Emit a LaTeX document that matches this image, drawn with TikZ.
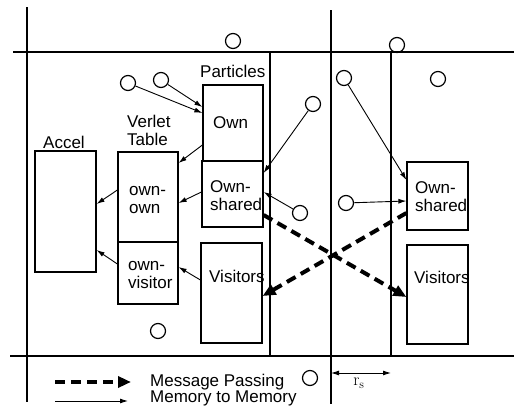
\documentclass[tikz,border=0pt]{standalone}
\usepackage[no-math]{fontspec}
\setmainfont{Liberation Sans}
\usepackage{tikz}
\usetikzlibrary{arrows.meta, positioning}
\tikzstyle{gridline} = [line width=1.4pt]
\tikzstyle{cellbox} = [rectangle, draw, line width=1.2pt, inner sep=0pt]
\tikzstyle{particle} = [circle, draw, line width=1.2pt, minimum size=15pt, inner sep=0pt]
\tikzstyle{tagtext} = [font=\fontsize{17}{18}\selectfont, inner sep=0pt, align=left]
\tikzstyle{memarrow} = [line width=0.9pt, -{Latex[length=8pt, width=5pt]}]
\tikzstyle{msgarrow} = [line width=4pt, dash pattern=on 10pt off 6pt, -{Triangle[length=13pt, width=11pt]}]

\begin{document}
\begin{tikzpicture}[x=1pt, y=-1pt]
  \useasboundingbox (0,0) rectangle (515,415);

  % cell borders
  \draw[gridline, line width=2.2pt] (27,7) -- (27,402);
  \draw[gridline] (13,52) -- (514,52);
  \draw[gridline] (10,356) -- (514,356);
  \draw[gridline] (331,10) -- (331,404);
  \draw[gridline] (270,52) -- (270,356);
  \draw[gridline] (391,52) -- (391,356);

  % memory blocks, left processor
  \node (accel) [cellbox, minimum width=61pt, minimum height=121pt] at (65.5,211.5) {};
  \node (vown)  [cellbox, minimum width=60pt, minimum height=90pt]  at (148,197) {};
  \node (vvis)  [cellbox, minimum width=60pt, minimum height=62pt]  at (148,273) {};
  \node (own)   [cellbox, minimum width=60pt, minimum height=76pt]  at (233,123) {};
  \node (ownsh) [cellbox, minimum width=61pt, minimum height=66pt]  at (232.5,194) {};
  \node (vis)   [cellbox, minimum width=61pt, minimum height=100pt] at (231.5,293) {};
  % memory blocks, right processor
  \node (rownsh) [cellbox, minimum width=61pt, minimum height=68pt] at (437.5,196) {};
  \node (rvis)   [cellbox, minimum width=61pt, minimum height=99pt] at (437.5,294.5) {};

  % titles and block labels
  \node (parttl)  [tagtext, anchor=base west] at (200,77)  {Particles};
  \node (verttl)  [tagtext, anchor=base west] at (127,127) {Verlet};
  \node (tabttl)  [tagtext, anchor=base west] at (127,145) {Table};
  \node (accttl)  [tagtext, anchor=base west] at (43,148)  {Accel};
  \node (ownlbl)  [tagtext, anchor=base west] at (213,128) {Own};
  \node (shlbl)   [tagtext, anchor=base west] at (210,192) {Own-};
  \node (shlblb)  [tagtext, anchor=base west] at (210,210) {shared};
  \node (oolbl)   [tagtext, anchor=base west] at (129,195) {own-};
  \node (oolblb)  [tagtext, anchor=base west] at (129,213) {own};
  \node (ovlbl)   [tagtext, anchor=base west] at (128,270) {own-};
  \node (ovlblb)  [tagtext, anchor=base west] at (128,288) {visitor};
  \node (vislbl)  [tagtext, anchor=base west] at (209,282) {Visitors};
  \node (rshlbl)  [tagtext, anchor=base west] at (415,193) {Own-};
  \node (rshlblb) [tagtext, anchor=base west] at (415,211) {shared};
  \node (rvislbl) [tagtext, anchor=base west] at (414,283) {Visitors};

  % particles
  \node (p1)  [particle] at (233,41) {};
  \node (p2)  [particle] at (397,45) {};
  \node (p3)  [particle] at (128,83) {};
  \node (p4)  [particle] at (161,80) {};
  \node (p5)  [particle] at (313,104) {};
  \node (p6)  [particle] at (344,78) {};
  \node (p7)  [particle] at (438,79) {};
  \node (p8)  [particle] at (300,213) {};
  \node (p9)  [particle] at (346,203) {};
  \node (p10) [particle] at (158,331) {};
  \node (p11) [particle] at (310,378) {};

  % memory to memory
  \draw[memarrow] (p3) -- ([yshift=10pt]own.west);
  \draw[memarrow] (p4) -- ([yshift=16pt]own.west);
  \draw[memarrow] ([yshift=-22pt]own.west) -- ([yshift=34pt]vown.east);
  \draw[memarrow] ([yshift=2pt]ownsh.west) -- ([yshift=-6pt]vown.east);
  \draw[memarrow] ([yshift=7pt]vown.west) -- ([yshift=7.5pt]accel.east);
  \draw[memarrow] ([yshift=9pt]vvis.west) -- ([yshift=-38.5pt]accel.east);
  \draw[memarrow] ([yshift=13pt]vis.west) -- ([yshift=6pt]vvis.east);
  \draw[memarrow] (p5) -- ([yshift=21pt]ownsh.east);
  \draw[memarrow] (p8) -- ([yshift=2pt]ownsh.east);
  \draw[memarrow] (p6) -- ([yshift=16pt]rownsh.west);
  \draw[memarrow] (p9) -- ([yshift=-5pt]rownsh.west);

  % message passing
  \draw[msgarrow] ([yshift=-21pt]ownsh.east) -- ([yshift=-2.5pt]rvis.west);
  \draw[msgarrow] ([yshift=-17pt]rownsh.west) -- ([yshift=-3pt]vis.east);

  % legend
  \coordinate (mpA) at (55,382);
  \coordinate (mpB) at (131,382);
  \draw[msgarrow] (mpA) -- (mpB);
  \node (mplbl) [tagtext, anchor=base west] at (150,386) {Message Passing};
  \coordinate (mmA) at (55,401);
  \coordinate (mmB) at (128,401);
  \draw[memarrow] (mmA) -- (mmB);
  \node (mmlbl) [tagtext, anchor=base west] at (150,402) {Memory to Memory};

  % cut-off radius
  \coordinate (rsA) at (331,373);
  \coordinate (rsB) at (391,373);
  \draw[line width=0.9pt, {Latex[length=8pt, width=5pt]}-{Latex[length=8pt, width=5pt]}] (rsA) -- (rsB);
  \node (rslbl) [tagtext] at (359,383) {$\mathrm{r}_\mathrm{s}$};
\end{tikzpicture}
\end{document}
